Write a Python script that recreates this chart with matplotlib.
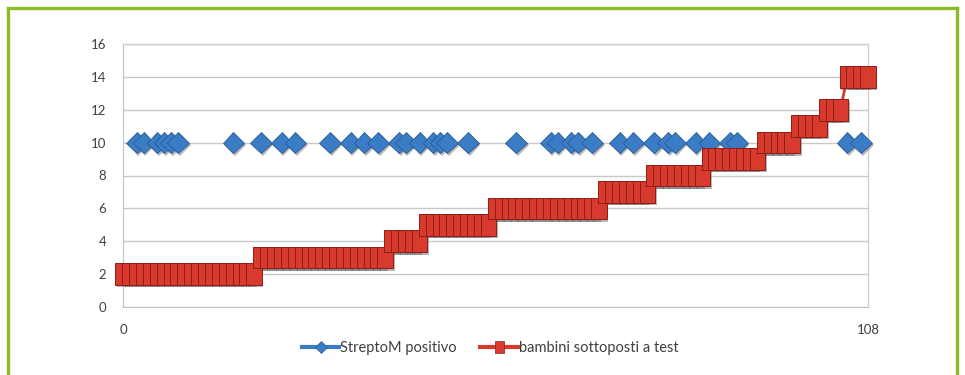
import numpy as np
import matplotlib
matplotlib.use("Agg")
import matplotlib.pyplot as plt
from matplotlib import patheffects as pe
from matplotlib.lines import Line2D

plt.rcParams['font.family'] = ['Lato', 'DejaVu Sans']

# children tested, in order (0..108)
children = list(range(109))

# number of children tested (cumulative step series)
tested = [
    2, 2, 2, 2, 2, 2, 2, 2, 2, 2, 2, 2, 2, 2, 2, 2, 2, 2, 2, 2,
    3, 3, 3, 3, 3, 3, 3, 3, 3, 3, 3, 3, 3, 3, 3, 3, 3, 3, 3,
    4, 4, 4, 4, 4,
    5, 5, 5, 5, 5, 5, 5, 5, 5, 5,
    6, 6, 6, 6, 6, 6, 6, 6, 6, 6, 6, 6, 6, 6, 6, 6,
    7, 7, 7, 7, 7, 7, 7,
    8, 8, 8, 8, 8, 8, 8, 8,
    9, 9, 9, 9, 9, 9, 9, 9,
    10, 10, 10, 10, 10,
    11, 11, 11, 11,
    12, 12, 12,
    14, 14, 14, 14,
]

# children found StreptoM positive (marked at level 10)
positive_idx = [2, 3, 5, 6, 7, 8, 16, 20, 23, 25, 30, 33, 35, 37, 40, 41, 43,
                45, 46, 47, 50, 57, 62, 63, 65, 66, 68, 72, 74, 77, 79, 80,
                83, 85, 88, 89, 105, 107]
positive_level = 10

y_ticks = [0, 2, 4, 6, 8, 10, 12, 14, 16]
x_ticks = [0, 108]
labels = ["StreptoM positivo", "bambini sottoposti a test"]

positive = np.full(len(children), np.nan)
positive[positive_idx] = positive_level

W, H = 965, 375
fig = plt.figure(figsize=(W / 100, H / 100), dpi=100)
fig.patch.set_facecolor("white")

# green frame (open at the bottom)
frame_col = "#8DBB24"
for xs, ys in [([8 / W, 8 / W], [0, 1 - 8 / H]),
               ([957 / W, 957 / W], [0, 1 - 8 / H]),
               ([8 / W, 957 / W], [1 - 8 / H, 1 - 8 / H])]:
    fig.add_artist(Line2D(xs, ys, color=frame_col, lw=2.4, transform=fig.transFigure))

ax = fig.add_axes([123 / W, (H - 307) / H, (868 - 123) / W, (307 - 44) / H])
ax.set_xlim(0, 108)
ax.set_ylim(0, 16)
ax.set_yticks(y_ticks)
ax.set_xticks(x_ticks)
ax.set_yticklabels([str(v) for v in y_ticks])
ax.set_xticklabels([str(v) for v in x_ticks])
ax.grid(axis="y", color="#C8C8C8", lw=1.0, zorder=0)
ax.set_axisbelow(True)
ax.tick_params(axis="both", length=0, labelsize=9.5, labelcolor="#404040")
ax.tick_params(axis="y", pad=12)
ax.tick_params(axis="x", pad=12)
for side in ["top", "right"]:
    ax.spines[side].set_color("#D0D0D0")
    ax.spines[side].set_linewidth(1.0)
ax.spines["left"].set_color("#B8C4D0")
ax.spines["bottom"].set_color("#C0C0C0")

shadow = [pe.SimplePatchShadow(offset=(1.2, -1.8), shadow_rgbFace="#606060", alpha=0.45),
          pe.Normal()]

blue_face = "#3A7CC6"
blue_edge = "#2A5A96"
# connecting line, then shaded markers
ax.plot(children, positive, color=blue_face, lw=2.0, zorder=3, clip_on=False)
ax.plot(children, positive, ls="none", marker="D", ms=11,
        mfc=blue_face, mec=blue_edge, mew=0.6, zorder=3, clip_on=False,
        path_effects=shadow)

red_face = "#D93A2E"
red_edge = "#8E1E16"
square = [(-0.72, -1), (0.72, -1), (0.72, 1), (-0.72, 1), (-0.72, -1)]
ax.plot(children, tested, color=red_face, lw=2.0, zorder=4, clip_on=False)
ax.plot(children, tested, ls="none", marker=square, ms=15.5,
        mfc=red_face, mec=red_edge, mew=0.7, zorder=4, clip_on=False,
        path_effects=shadow)

handles = [
    Line2D([], [], color=blue_face, lw=3, marker="D", ms=6, mfc=blue_face, mec=blue_edge, mew=0.5),
    Line2D([], [], color=red_face, lw=3, marker=square, ms=9, mfc=red_face, mec=red_edge, mew=0.5),
]
fig.legend(handles, labels, loc="center", bbox_to_anchor=(490 / W, 1 - 348 / H),
           ncol=2, frameon=False, fontsize=10.5, handlelength=2.6, handletextpad=0.05,
           columnspacing=1.6, labelcolor="#404040")

fig.savefig("out.png", dpi=100, facecolor="white")
